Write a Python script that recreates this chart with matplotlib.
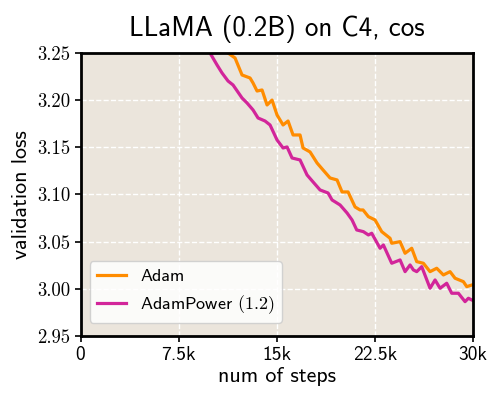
import matplotlib
matplotlib.use("Agg")
import matplotlib.pyplot as plt

# validation loss (steps, loss)
adam_steps = [0, 5000, 9000, 10000, 10800, 11273, 11808, 12343, 12955, 13184, 13490, 13872,
              14254, 14636, 15018, 15477, 15859, 16241, 16776, 17006, 17541, 18076,
              18534, 19069, 19604, 19986, 20445, 20980, 21361, 21591, 21998, 22508,
              23017, 23654, 23781, 24419, 24801, 25310, 25692, 26201, 26711, 27220,
              27729, 28238, 28622, 29258, 29513, 29896]
adam_loss = [4.20, 3.50, 3.31, 3.285, 3.262, 3.250, 3.2447, 3.2267, 3.2235, 3.2182, 3.2097, 3.2108,
             3.1949, 3.2001, 3.1843, 3.1737, 3.1779, 3.1631, 3.1631, 3.1493, 3.1451, 3.1334,
             3.1260, 3.1175, 3.1154, 3.1027, 3.1027, 3.0868, 3.0836, 3.0836, 3.0765, 3.0730,
             3.0606, 3.0536, 3.0483, 3.0500, 3.0377, 3.0430, 3.0288, 3.0271, 3.0182, 3.0218,
             3.0147, 3.0182, 3.0112, 3.0076, 3.0023, 3.0040]

power_steps = [0, 5000, 8500, 9300, 9897, 10433, 10815, 11273, 11655, 12343, 12725, 13184,
               13566, 14101, 14483, 15018, 15477, 15783, 16165, 16776, 17311, 17770,
               18305, 18916, 19222, 19833, 20368, 20750, 21107, 21616, 21998, 22253,
               22890, 23144, 23781, 24419, 24801, 25183, 25437, 25692, 26074, 26711,
               27093, 27475, 27984, 28366, 28876, 29385, 29640, 29896]
power_loss = [4.10, 3.45, 3.29, 3.268, 3.250, 3.2373, 3.2288, 3.2203, 3.2161, 3.2023, 3.1970, 3.1896,
              3.1811, 3.1779, 3.1737, 3.1578, 3.1493, 3.1504, 3.1387, 3.1366, 3.1207, 3.1133,
              3.1048, 3.1016, 3.0942, 3.0889, 3.0804, 3.0730, 3.0624, 3.0606, 3.0571, 3.0589,
              3.0430, 3.0465, 3.0271, 3.0306, 3.0182, 3.0253, 3.0200, 3.0182, 3.0235, 3.0006,
              3.0094, 3.0006, 3.0059, 2.9953, 2.9953, 2.9864, 2.9900, 2.9882]

x_ticks = [0, 7500, 15000, 22500, 30000]
x_labels = ["0", "7.5k", "15k", "22.5k", "30k"]
y_ticks = [2.95, 3.00, 3.05, 3.10, 3.15, 3.20, 3.25]

sans = "cmss10"
serif = "cmr10"
plt.rcParams["axes.formatter.use_mathtext"] = True
plt.rcParams["mathtext.fontset"] = "cm"

fig = plt.figure(figsize=(4.98, 3.97), dpi=100)
ax = fig.add_axes([0.1617, 0.1537, 0.7883, 0.7128])
ax.set_facecolor("#EBE5DC")

ax.plot(adam_steps, adam_loss, color="#FF8C00", lw=2.3, label="Adam")
ax.plot(power_steps, power_loss, color="#D2259A", lw=2.3, label=r"AdamPower $(1.2)$")

ax.set_xlim(0, 30000)
ax.set_ylim(2.95, 3.25)
ax.set_xticks(x_ticks)
ax.set_xticklabels(x_labels, fontfamily=sans, fontsize=14)
ax.set_yticks(y_ticks)
ax.set_yticklabels(["%.2f" % v for v in y_ticks], fontfamily=serif, fontsize=13.5)

ax.grid(True, color="white", ls="--", lw=1.0)
ax.set_axisbelow(True)
for sp in ax.spines.values():
    sp.set_linewidth(2.0)
ax.tick_params(direction="out", length=4, width=1.2, color="black")

ax.set_xlabel("num of steps", fontfamily=sans, fontsize=15.8, labelpad=2)
ax.set_ylabel("validation loss", fontfamily=sans, fontsize=15.8, labelpad=4)
ax.set_title("LLaMA (0.2B) on C4, cos", fontfamily=sans, fontsize=19.5, pad=12)

leg = ax.legend(loc="lower left", bbox_to_anchor=(0.023, 0.046), borderaxespad=0,
                prop={"family": sans, "size": 13}, framealpha=0.85, handlelength=1.6)

fig.savefig("out.png", dpi=100)
